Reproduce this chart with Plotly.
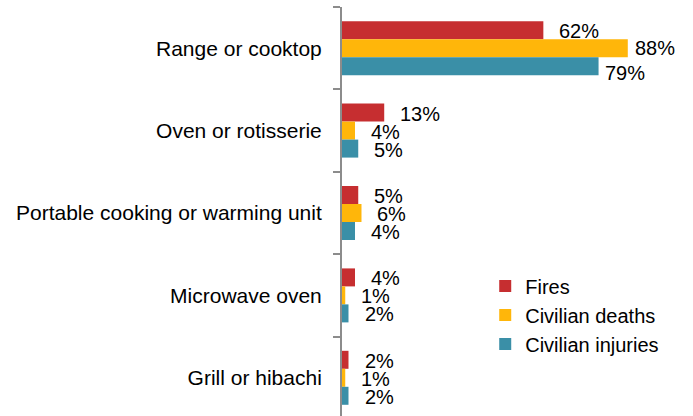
import plotly.graph_objects as go

categories = ["Range or cooktop", "Oven or rotisserie", "Portable cooking or warming unit",
              "Microwave oven", "Grill or hibachi"]
fires = [62, 13, 5, 4, 2]
deaths = [88, 4, 6, 1, 1]
injuries = [79, 5, 4, 2, 2]
series_names = ["Fires", "Civilian deaths", "Civilian injuries"]
colors = ["#C62E30", "#FFB60A", "#3A8FA7"]

# label styling (pixel offsets of data labels, per series then category)
label_gap = [[16, 16, 16, 16, 16], [7, 16, 16, 16, 16], [6, 16, 16, 16, 16]]
label_yshift = [[-1, -1, -1, -1, -1], [0, -1, -1, -1, -1], [-7, -1, -1, -1, -1]]

FONT = "Liberation Sans, Arial, sans-serif"
band = 82.4
bar_px = band * (1 - 0.345) / 3

fig = go.Figure()
annotations = []
for i, (name, vals, col) in enumerate(zip(series_names, [fires, deaths, injuries], colors)):
    fig.add_trace(go.Bar(
        y=categories, x=vals, name=name, orientation="h",
        marker=dict(color=col, line=dict(width=0)),
        hoverinfo="skip",
    ))
    for j, (cat, v) in enumerate(zip(categories, vals)):
        annotations.append(dict(
            x=v, y=cat, xref="x", yref="y", text=f"{v}%", showarrow=False,
            xanchor="left", yanchor="middle",
            xshift=label_gap[i][j] - 2,
            yshift=(1 - i) * bar_px + label_yshift[i][j],
            font=dict(family=FONT, size=20, color="#000000"),
        ))

plot_h = 416 - 7
fig.update_layout(
    width=693, height=416,
    margin=dict(l=342, r=10, t=7, b=0),
    paper_bgcolor="white", plot_bgcolor="white",
    barmode="group", bargap=0.345, bargroupgap=0,
    font=dict(family=FONT, size=20, color="#000000"),
    showlegend=True,
    legend=dict(x=0.42, y=0.247, xanchor="left", yanchor="middle",
                font=dict(family=FONT, size=20, color="#000000"),
                bgcolor="rgba(0,0,0,0)", tracegroupgap=0, itemwidth=30),
    annotations=annotations,
    xaxis=dict(range=[0, 105], visible=False, showgrid=False, zeroline=False),
    yaxis=dict(range=[4.5 - (5 - plot_h / band), -0.5], type="category",
               showline=True, linecolor="#8C8C8C", linewidth=2,
               ticks="outside", ticklen=7, tickwidth=2, tickcolor="#8C8C8C",
               tickson="boundaries", showgrid=False, zeroline=False,
               ticklabelstandoff=14, automargin=False,
               tickfont=dict(family=FONT, size=21, color="#000000")),
)
fig.write_html("out.html", config={"displayModeBar": False},
               post_script="document.body.style.margin='0';")
